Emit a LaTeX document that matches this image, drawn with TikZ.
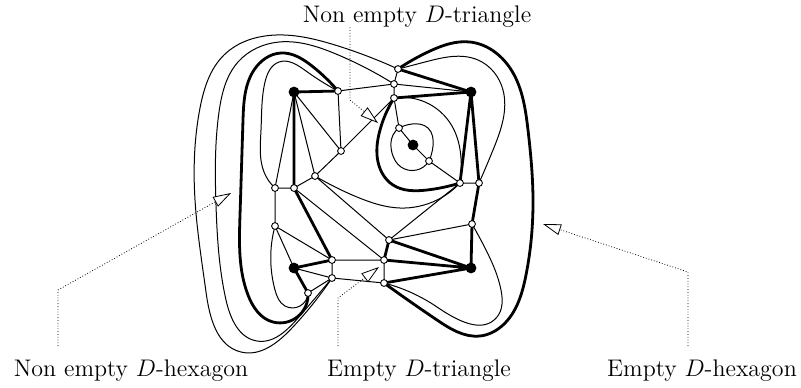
\documentclass[tikz,border=0pt]{standalone}
\usepackage{fontspec}
\usetikzlibrary{arrows.meta,hobby}
\pgfdeclarelayer{bg}
\pgfsetlayers{bg,main}
\begin{document}
\begin{tikzpicture}[x=0.5pt,y=-0.5pt,
  wn/.style={circle,draw,fill=white,inner sep=0pt,minimum size=3.4pt,line width=0.45pt},
  bn/.style={circle,fill=black,inner sep=0pt,minimum size=5.4pt},
  tn/.style={line width=0.5pt},
  tk/.style={line width=1.4pt},
  lbl/.style={densely dotted,line width=0.4pt,-{Triangle[open,fill=white,length=9pt,width=5.5pt]}},
  txt/.style={font=\fontsize{12}{14}\selectfont,anchor=base,inner sep=0pt}]
\useasboundingbox (0,0) rectangle (801,387);

% black vertices
\node[bn] (B1) at (294,92) {};
\node[bn] (B2) at (471,92) {};
\node[bn] (B3) at (413,145) {};
\node[bn] (B4) at (294,268) {};
\node[bn] (B5) at (471,268) {};
% white vertices
\node[wn] (w1) at (338,91) {};
\node[wn] (w2) at (341,151) {};
\node[wn] (w3) at (315,176) {};
\node[wn] (w4) at (275,188) {};
\node[wn] (w5) at (294,188) {};
\node[wn] (w6) at (398,69) {};
\node[wn] (w7) at (394,84) {};
\node[wn] (w8) at (394,98) {};
\node[wn] (w9) at (399,128) {};
\node[wn] (w10) at (429,161) {};
\node[wn] (w11) at (460,183) {};
\node[wn] (w12) at (479,183) {};
\node[wn] (w13) at (472,224) {};
\node[wn] (w14) at (389,240) {};
\node[wn] (w15) at (384,260) {};
\node[wn] (w16) at (384,283) {};
\node[wn] (w17) at (275,226) {};
\node[wn] (w18) at (332,260) {};
\node[wn] (w19) at (332,278) {};
\node[wn] (w20) at (308,293) {};

% labels
\node[txt] (lt) at (417,22) {Non empty $D$-triangle};
\node[txt] (lh1) at (131,376) {Non empty $D$-hexagon};
\node[txt] (lt2) at (419,376) {Empty $D$-triangle};
\node[txt] (lh2) at (702,376) {Empty $D$-hexagon};

\begin{pgfonlayer}{bg}
% thin straight edges
\draw[tn] (w1.center) -- (w2.center) (w1.center) -- (w7.center)
  (B1.center) -- (w4.center) (B1.center) -- (w3.center) (B1.center) -- (w2.center)
  (w2.center) -- (w3.center) (w2.center) -- (w8.center) (w3.center) -- (w5.center)
  (w4.center) -- (w5.center) (w4.center) -- (w17.center)
  (w6.center) -- (w7.center) (w7.center) -- (w8.center) (w7.center) -- (B2.center)
  (w8.center) -- (w9.center) (w9.center) -- (B3.center) (B3.center) -- (w10.center)
  (w10.center) -- (w11.center) (w11.center) -- (w12.center) (w11.center) -- (w14.center)
  (w13.center) -- (w14.center) (w15.center) -- (w16.center)
  (w3.center) -- (w14.center) (w5.center) -- (w15.center)
  (w17.center) -- (w18.center) (w17.center) -- (B4.center) (B4.center) -- (w19.center)
  (w18.center) -- (w19.center) (w19.center) -- (w20.center)
  (w18.center) -- (w15.center) (w19.center) -- (w16.center);
% thick straight edges
\draw[tk] (B1.center) -- (w1.center) (B1.center) -- (w5.center)
  (w6.center) -- (B2.center) (w8.center) -- (B2.center)
  (B2.center) -- (w11.center) (B2.center) -- (w12.center)
  (w12.center) -- (w13.center) (w13.center) -- (B5.center)
  (w14.center) -- (B5.center) (w14.center) -- (w15.center)
  (w15.center) -- (B5.center) (w16.center) -- (B5.center)
  (w5.center) -- (w18.center) (B4.center) -- (w18.center) (B4.center) -- (w20.center);

% left curves
\draw[tn] (w6.center) to[curve through={(335,45) .. (276,35) .. (224,55) .. (200,108) .. (195,200) .. (206,292) .. (241,352) .. (292,328)}] (w19.center);
\draw[tn] (w7.center) to[curve through={(336,54) .. (279,42) .. (238,62) .. (219,112) .. (216,205) .. (226,300) .. (257,341) .. (298,318)}] (w19.center);
\draw[tk] (w1.center) to[curve through={(312,66) .. (281,53) .. (254,70) .. (243,120) .. (240,215) .. (248,295) .. (273,322)}] (w20.center);
\draw[tn] (w1.center) to[curve through={(306,71) .. (279,62) .. (265,82) .. (261,130) .. (264,172)}] (w4.center);
\draw[tn] (w17.center) to[curve through={(271,250) .. (275,290) .. (285,306)}] (w20.center);

% right curves
\draw[tk] (w6.center) to[curve through={(430,51) .. (470,42) .. (510,68) .. (528,130) .. (533,200) .. (526,275) .. (503,325) .. (480,336) .. (437,320)}] (w16.center);
\draw[tn] (w6.center) to[curve through={(425,62) .. (478,60) .. (503,90) .. (503,120) .. (493,150)}] (w12.center);
\draw[tn] (w16.center) to[curve through={(437,307) .. (497,317) .. (501,290) .. (485,248)}] (w13.center);

% around the centre
\draw[tk] (w8.center) to[curve through={(380,130) .. (378,162) .. (393,185) .. (427,190)}] (w11.center);
\draw[tn] (w8.center) to[curve through={(425,102) .. (452,126) .. (461,158)}] (w11.center);
\draw[tn] (w9.center) to[curve through={(412,124) .. (428,128) .. (433,146)}] (w10.center);
\draw[tn] (w9.center) to[curve through={(393,135) .. (392,153) .. (401,167)}] (w10.center);
\draw[tn] (w3.center) to[curve through={(357,197) .. (400,208) .. (437,200)}] (w11.center);
\end{pgfonlayer}

% label pointers
\coordinate (p1a) at (350,100);
\coordinate (p1b) at (378,123);
\draw[lbl] (p1a |- lt.south) -- (p1a) -- (p1b);
\coordinate (p2s) at (58,346);
\coordinate (p2a) at (58,290);
\coordinate (p2b) at (231,193);
\draw[lbl] (p2s) -- (p2a) -- (p2b);
\coordinate (p3s) at (338,346);
\coordinate (p3a) at (338,298);
\coordinate (p3b) at (379,267);
\draw[lbl] (p3s) -- (p3a) -- (p3b);
\coordinate (p4s) at (688,346);
\coordinate (p4a) at (688,272);
\coordinate (p4b) at (543,224);
\draw[lbl] (p4s) -- (p4a) -- (p4b);
\end{tikzpicture}
\end{document}
